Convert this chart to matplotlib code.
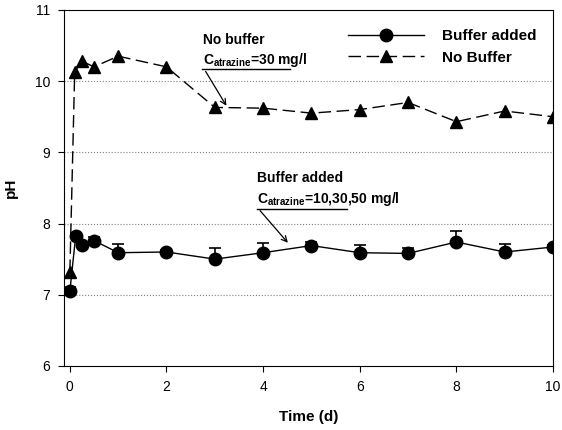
import numpy as np
import matplotlib.pyplot as plt

plt.rcParams['font.family'] = ['Liberation Sans', 'DejaVu Sans']
plt.rcParams['mathtext.fontset'] = 'custom'
plt.rcParams['mathtext.bf'] = 'Liberation Sans:bold'

# Buffer added series
t_buf = [0, 0.12, 0.25, 0.5, 1, 2, 3, 4, 5, 6, 7, 8, 9, 10]
ph_buf = [7.05, 7.82, 7.70, 7.76, 7.59, 7.60, 7.50, 7.59, 7.69, 7.59, 7.58, 7.74, 7.60, 7.67]
err_buf = [0.06, 0.03, 0.03, 0.05, 0.12, 0.03, 0.16, 0.13, 0.05, 0.11, 0.08, 0.16, 0.11, 0.03]

# No buffer series
t_nob = [0, 0.1, 0.25, 0.5, 1, 2, 3, 4, 5, 6, 7, 8, 9, 10]
ph_nob = [7.32, 10.13, 10.28, 10.20, 10.35, 10.20, 9.63, 9.62, 9.55, 9.60, 9.70, 9.43, 9.58, 9.50]

fig = plt.figure(figsize=(5.62, 4.30), dpi=100)
ax = fig.add_axes([0.114, 0.149, 0.870, 0.828])

ax.errorbar(t_buf, ph_buf, yerr=[np.zeros(len(err_buf)), err_buf], fmt='none',
            ecolor='black', elinewidth=1.2, capsize=4, capthick=1.2, zorder=2)
ax.plot(t_buf, ph_buf, '-o', color='black', lw=1, ms=9, label='Buffer added', zorder=3)
ax.plot(t_nob, ph_nob, '^', color='black', ls=(0, (9, 4)), lw=1, ms=8, label='No Buffer', zorder=3)

ax.set_xlim(-0.12, 10)
ax.set_ylim(6, 11)
ax.set_xticks([0, 2, 4, 6, 8, 10])
ax.set_yticks([6, 7, 8, 9, 10, 11])
ax.tick_params(direction='out', labelsize=10, length=4, pad=6)
for y in [7, 8, 9, 10]:
    ax.axhline(y, color='gray', lw=0.8, ls=':', zorder=0)

ax.set_xlabel('Time (d)', fontsize=11, fontweight='bold', labelpad=12)
ax.set_ylabel('pH', fontsize=11, fontweight='bold', labelpad=12)

# annotations
ax.text(2.75, 10.52, 'No buffer', fontsize=10, fontweight='bold')
ax.text(2.75, 10.24, r'C$_{\mathbf{atrazine}}$=30 mg/l', fontsize=10, fontweight='bold')
ax.plot([2.73, 4.55], [10.17, 10.17], color='black', lw=1)
ax.annotate('', xy=(3.27, 9.62), xytext=(2.78, 10.17),
            arrowprops=dict(arrowstyle='->', color='black', lw=0.9))

ax.text(3.87, 8.58, 'Buffer added', fontsize=10, fontweight='bold')
ax.text(3.87, 8.29, r'C$_{\mathbf{atrazine}}$=10,30,50 mg/l', fontsize=10, fontweight='bold')
ax.plot([3.87, 5.73], [8.21, 8.21], color='black', lw=1)
ax.annotate('', xy=(4.55, 7.70), xytext=(3.9, 8.21),
            arrowprops=dict(arrowstyle='->', color='black', lw=0.9))

leg = ax.legend(loc='upper right', bbox_to_anchor=(0.995, 0.985), frameon=False,
                handlelength=5, handletextpad=1.2,
                prop={'weight': 'bold', 'size': 11})

fig.savefig('out.png', dpi=100)
